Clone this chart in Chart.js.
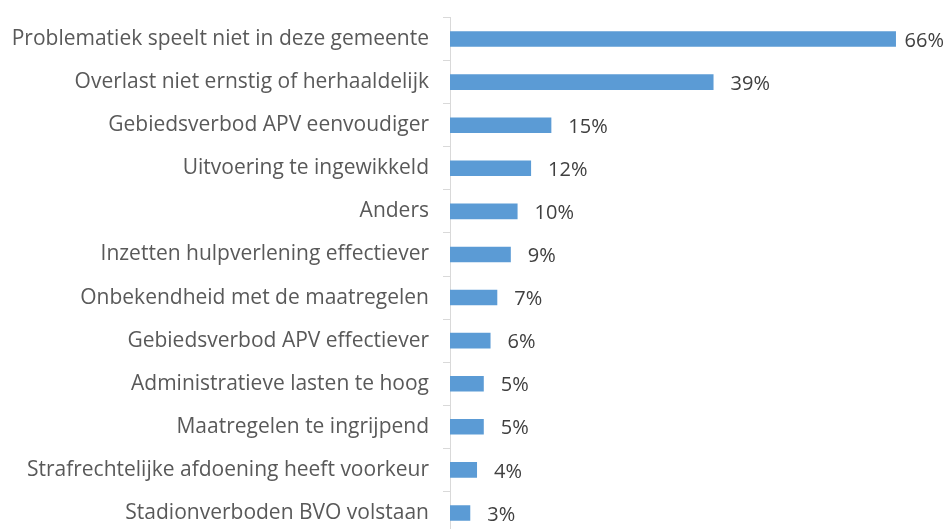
<!DOCTYPE html>
<html>
<head>
<meta charset="utf-8">
<script src="https://cdn.jsdelivr.net/npm/chart.js@4"></script>
<style>
  html, body { margin: 0; padding: 0; background: #fff; overflow: hidden; }
  #wrap { width: 946px; height: 560px; }
</style>
</head>
<body>
<div id="wrap"><canvas id="chart"></canvas></div>
<script>
const categories = [
  "Problematiek speelt niet in deze gemeente",
  "Overlast niet ernstig of herhaaldelijk",
  "Gebiedsverbod APV eenvoudiger",
  "Uitvoering te ingewikkeld",
  "Anders",
  "Inzetten hulpverlening effectiever",
  "Onbekendheid met de maatregelen",
  "Gebiedsverbod APV effectiever",
  "Administratieve lasten te hoog",
  "Maatregelen te ingrijpend",
  "Strafrechtelijke afdoening heeft voorkeur",
  "Stadionverboden BVO volstaan"
];
const percentages = [66, 39, 15, 12, 10, 9, 7, 6, 5, 5, 4, 3];

// draws "66%" etc. right of each bar, pulled in when it would run off the edge
const valueLabels = {
  id: "valueLabels",
  afterDatasetsDraw(chart) {
    const ctx = chart.ctx;
    const meta = chart.getDatasetMeta(0);
    ctx.save();
    ctx.font = "20px 'Open Sans'";
    ctx.fillStyle = "#404040";
    ctx.textAlign = "left";
    ctx.textBaseline = "middle";
    meta.data.forEach((bar, i) => {
      const txt = percentages[i] + "%";
      const w = ctx.measureText(txt).width;
      const x = Math.min(bar.x + 17, chart.width - w - 2);
      ctx.fillText(txt, x, bar.y + 2);
    });
    ctx.restore();
  }
};

new Chart(document.getElementById("chart"), {
  type: "bar",
  data: {
    labels: categories,
    datasets: [{
      data: percentages,
      backgroundColor: "#5b9bd5",
      borderWidth: 0,
      barPercentage: 0.72,
      categoryPercentage: 0.5
    }]
  },
  plugins: [valueLabels],
  options: {
    indexAxis: "y",
    responsive: true,
    maintainAspectRatio: false,
    animation: false,
    layout: { padding: { top: 17.5, bottom: 25.5, left: 0, right: 23 } },
    plugins: { legend: { display: false }, tooltip: { enabled: false } },
    scales: {
      x: { display: false, min: 0, max: 70 },
      y: {
        afterFit(s) { s.width = 450; s.paddingTop = 0; s.paddingBottom = 0; },
        border: { color: "#d9d9d9", width: 1 },
        grid: { color: "#d9d9d9", drawOnChartArea: false, tickLength: 7, offset: true },
        ticks: { color: "#595959", font: { family: "'Open Sans'", size: 21 }, padding: 14 }
      }
    }
  }
});
</script>
</body>
</html>
